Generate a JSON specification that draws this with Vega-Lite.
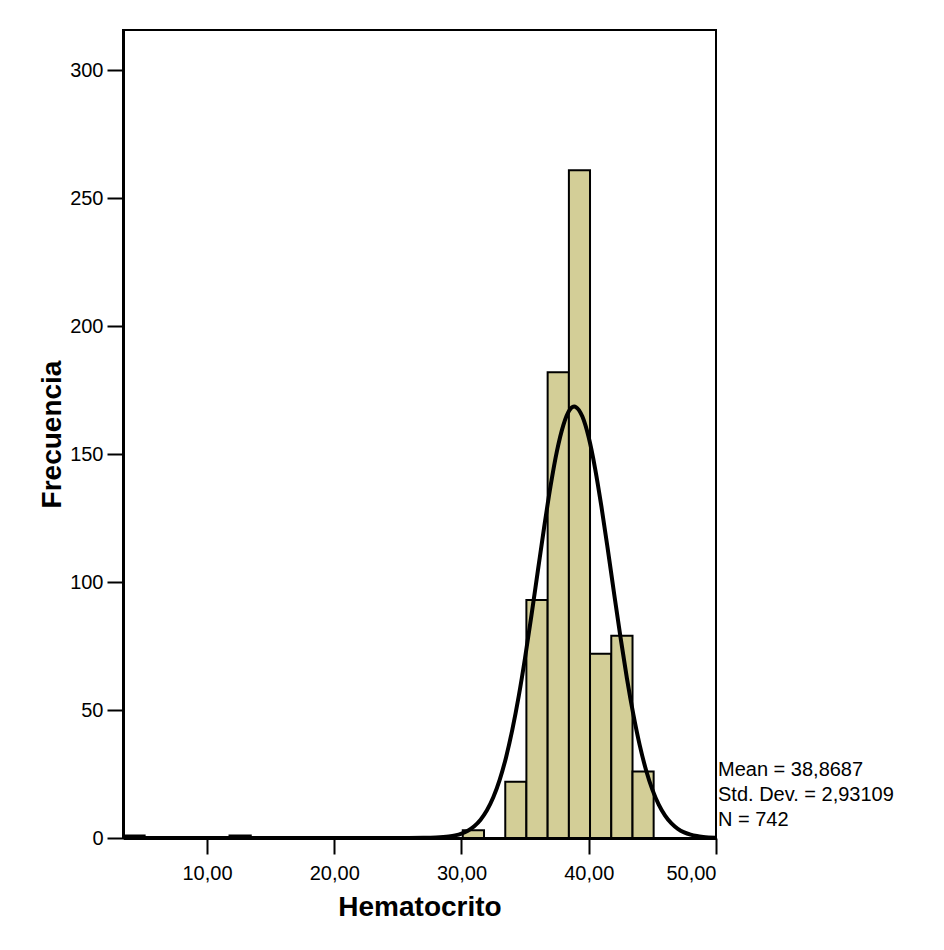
{
  "$schema": "https://vega.github.io/schema/vega-lite/v6.json",
  "width": 593,
  "height": 808,
  "autosize": {"type": "none"},
  "padding": {"left": 123, "top": 30, "right": 228, "bottom": 112},
  "background": "white",
  "config": {"view": {"stroke": "#000", "strokeWidth": 2}, "font": "Liberation Sans"},
  "datasets": {
    "bins": [
      {"bin_start": 3.43, "bin_end": 5.1, "count": 1},
      {"bin_start": 11.77, "bin_end": 13.44, "count": 1},
      {"bin_start": 30.1, "bin_end": 31.77, "count": 3},
      {"bin_start": 33.44, "bin_end": 35.1, "count": 22},
      {"bin_start": 35.1, "bin_end": 36.77, "count": 93},
      {"bin_start": 36.77, "bin_end": 38.44, "count": 182},
      {"bin_start": 38.44, "bin_end": 40.1, "count": 261},
      {"bin_start": 40.1, "bin_end": 41.77, "count": 72},
      {"bin_start": 41.77, "bin_end": 43.44, "count": 79},
      {"bin_start": 43.44, "bin_end": 45.1, "count": 26}
    ],
    "curve": [
      {"x": 3.4, "y": 0}, {"x": 10, "y": 0}, {"x": 20, "y": 0}, {"x": 25, "y": 0.002},
      {"x": 27, "y": 0.05}, {"x": 28, "y": 0.17}, {"x": 29, "y": 0.58}, {"x": 29.5, "y": 1.02},
      {"x": 30, "y": 1.73}, {"x": 30.5, "y": 2.86}, {"x": 31, "y": 4.59}, {"x": 31.5, "y": 7.15},
      {"x": 32, "y": 10.82}, {"x": 32.5, "y": 15.91}, {"x": 33, "y": 22.72}, {"x": 33.5, "y": 31.5},
      {"x": 34, "y": 42.44}, {"x": 34.5, "y": 55.5}, {"x": 35, "y": 70.56}, {"x": 35.5, "y": 87.1},
      {"x": 36, "y": 104.4}, {"x": 36.5, "y": 121.6}, {"x": 37, "y": 137.6}, {"x": 37.5, "y": 151.2},
      {"x": 38, "y": 161.3}, {"x": 38.5, "y": 167.3}, {"x": 38.87, "y": 168.6}, {"x": 39, "y": 168.4},
      {"x": 39.5, "y": 164.7}, {"x": 40, "y": 156.5}, {"x": 40.5, "y": 144.4}, {"x": 41, "y": 129.4},
      {"x": 41.5, "y": 112.7}, {"x": 42, "y": 95.3}, {"x": 42.5, "y": 78.3}, {"x": 43, "y": 62.4},
      {"x": 43.5, "y": 48.4}, {"x": 44, "y": 36.4}, {"x": 44.5, "y": 26.6}, {"x": 45, "y": 18.9},
      {"x": 45.5, "y": 13.05}, {"x": 46, "y": 8.74}, {"x": 46.5, "y": 5.69}, {"x": 47, "y": 3.59},
      {"x": 47.5, "y": 2.21}, {"x": 48, "y": 1.32}, {"x": 48.5, "y": 0.76}, {"x": 49, "y": 0.43},
      {"x": 50, "y": 0.12}
    ]
  },
  "layer": [
    {
      "data": {"name": "bins"},
      "mark": {"type": "rect", "fill": "#d3ce97", "stroke": "#000", "strokeWidth": 2},
      "encoding": {
        "x": {
          "field": "bin_start", "type": "quantitative",
          "scale": {"domain": [3.4, 50], "nice": false, "zero": false},
          "axis": {
            "values": [10, 20, 30, 40, 50],
            "labelExpr": "replace(format(datum.value, '.2f'), '.', ',')",
            "grid": false,
            "domainColor": "#000", "domainWidth": 3,
            "tickColor": "#000", "tickWidth": 2, "tickSize": 16,
            "labelFontSize": 20, "labelColor": "#000", "labelPadding": 9,
            "labelFont": "Liberation Sans",
            "title": "Hematocrito", "titleFontSize": 28, "titleFontWeight": "bold",
            "titleColor": "#000", "titlePadding": 10, "titleFont": "Liberation Sans"
          }
        },
        "x2": {"field": "bin_end"},
        "y": {
          "field": "count", "type": "quantitative",
          "scale": {"domain": [0, 315.8], "nice": false},
          "axis": {
            "values": [0, 50, 100, 150, 200, 250, 300],
            "grid": false,
            "domainColor": "#000", "domainWidth": 3,
            "tickColor": "#000", "tickWidth": 2, "tickSize": 16,
            "labelFontSize": 20, "labelColor": "#000", "labelPadding": 4,
            "labelFont": "Liberation Sans",
            "title": "Frecuencia", "titleFontSize": 28, "titleFontWeight": "bold",
            "titleColor": "#000", "titlePadding": 3, "titleFont": "Liberation Sans"
          }
        }
      }
    },
    {
      "data": {"name": "curve"},
      "mark": {"type": "line", "color": "#000", "strokeWidth": 4, "interpolate": "monotone", "clip": true},
      "encoding": {
        "x": {"field": "x", "type": "quantitative"},
        "y": {"field": "y", "type": "quantitative"}
      }
    },
    {
      "data": {"values": [{}]},
      "mark": {
        "type": "text",
        "text": ["Mean = 38,8687", "Std. Dev. = 2,93109", "N = 742"],
        "align": "left", "baseline": "alphabetic",
        "dx": 2, "dy": -62, "lineHeight": 25,
        "fontSize": 20, "font": "Liberation Sans", "color": "#000"
      },
      "encoding": {
        "x": {"datum": 50, "type": "quantitative"},
        "y": {"datum": 0, "type": "quantitative"}
      }
    }
  ]
}
